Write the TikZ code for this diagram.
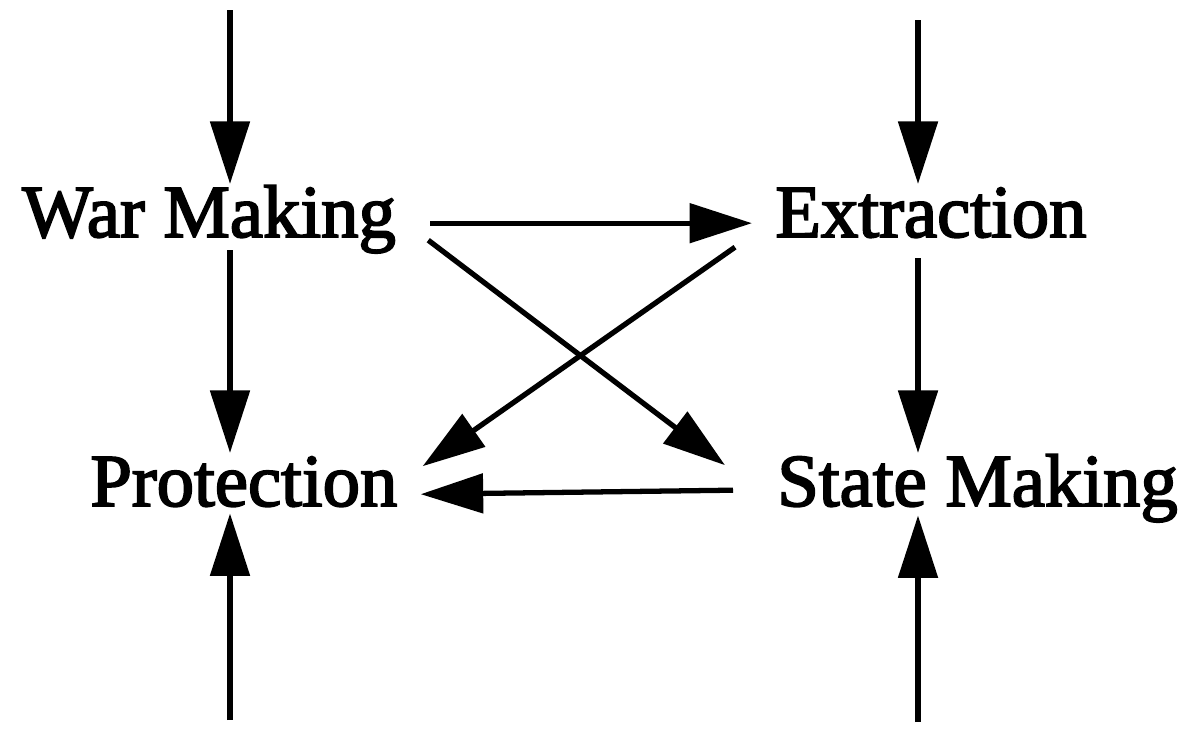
\documentclass[tikz,border=0pt]{standalone}
\usepackage{fontspec}
\newfontfamily\stagefont[FakeBold=2.5]{Liberation Serif}
\usepackage{tikz}
\usetikzlibrary{arrows.meta,positioning,calc}

\tikzset{
  stage/.style={inner sep=0pt, anchor=base west, font=\stagefont\fontsize{42.5}{50}\selectfont,
    text height=30pt, text depth=12pt},
  flow/.style={-{Triangle[length=1.25cm,width=0.78cm]}, line width=3pt},
}

\begin{document}
\begin{tikzpicture}
  \useasboundingbox (0,0) rectangle (23.88,-14.6);
  % Stages
  \node[stage] (war) at (0.44,-4.74) {War Making};
  \node[stage] (extr) at (15.5,-4.74) {Extraction};
  \node[stage] (prot) at (1.8,-10.12) {Protection};
  \node[stage] (state) at (15.54,-10.12) {State Making};
  % Loose ends
  \coordinate (wtop) at (4.6,-0.2);
  \coordinate (etop) at (18.36,-0.4);
  \coordinate (pbot) at (4.6,-14.4);
  \coordinate (sbot) at (18.36,-14.44);
  % Inputs from outside
  \draw[flow] (wtop) -- (wtop |- war.north);
  \draw[flow] (etop) -- (etop |- extr.north);
  \draw[flow] (pbot) -- ($(prot.south -| pbot)+(0,0.28)$);
  \draw[flow] (sbot) -- ($(state.south -| sbot)+(0,0.24)$);
  % Down the columns
  \draw[flow] ($(war.south -| wtop)+(0,0.16)$) -- (prot.north -| wtop);
  \draw[flow] (extr.south -| etop) -- (state.north -| etop);
  % Across
  \draw[flow] ($(war.east)+(0.68,-0.04)$) -- ($(extr.west)+(-0.46,-0.04)$);
  \draw[flow] ($(state.west)+(-0.88,0)$) -- ($(prot.east)+(0.46,-0.08)$);
  % Crossing
  \draw[flow] ($(war.east)+(0.64,-0.38)$) -- ($(state.west)+(-1.04,0.5)$);
  \draw[flow] ($(extr.west)+(-0.8,-0.52)$) -- ($(prot.east)+(0.5,0.48)$);
\end{tikzpicture}
\end{document}
